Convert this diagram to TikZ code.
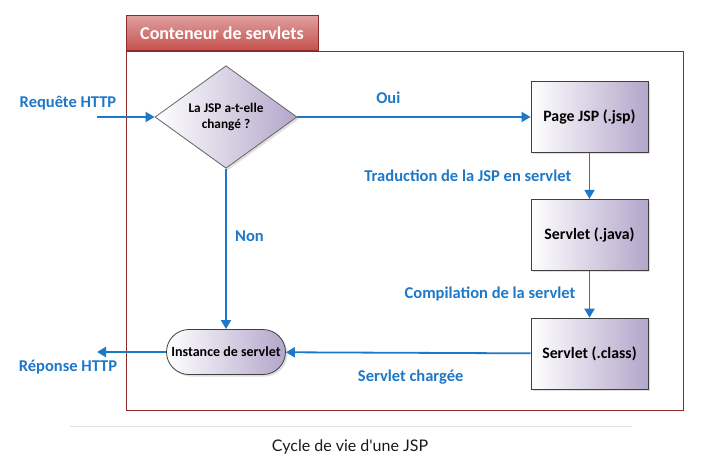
\documentclass[tikz,border=0pt]{standalone}
\usepackage{fontspec}
\setmainfont{Carlito}
\newfontfamily\capfont{Lato}
\usetikzlibrary{shapes.misc, shapes.geometric, arrows.meta, positioning, calc, shadows}
\definecolor{jspblue}{HTML}{1E78C8}
\definecolor{jspred}{HTML}{8E2A2A}
\definecolor{tabred}{HTML}{C4504C}
\definecolor{boxlav}{HTML}{B3A6CA}
\tikzset{
  container/.style={draw=jspred,line width=1pt,minimum width=557pt,minimum height=358pt,inner sep=0pt},
  tab/.style={draw=jspred,line width=1pt,top color=tabred!55,bottom color=tabred,text=white,font=\bfseries\fontsize{18}{20}\selectfont,minimum width=192pt,minimum height=35pt,inner sep=0pt},
  jspbox/.style={rectangle,draw=black!75,thick,left color=white,right color=boxlav,minimum width=117pt,minimum height=71pt,font=\bfseries\fontsize{15.8}{18}\selectfont,drop shadow={opacity=0.25,shadow xshift=2pt,shadow yshift=-2pt}},
  decision/.style={diamond,draw=black!60,thick,left color=white,right color=boxlav,minimum width=142pt,minimum height=77pt,inner sep=0pt,align=center,font=\bfseries\fontsize{13.3}{16}\selectfont,drop shadow={opacity=0.25,shadow xshift=2pt,shadow yshift=-2pt}},
  instbox/.style={rounded rectangle,draw=black!75,thick,left color=white,right color=boxlav,minimum width=119pt,minimum height=45pt,inner sep=0pt,font=\bfseries\fontsize{14}{16}\selectfont,drop shadow={opacity=0.25,shadow xshift=2pt,shadow yshift=-2pt}},
  flow/.style={-{Triangle[width=10pt,length=9pt]},jspblue,line width=1.8pt},
  flowlabel/.style={text=jspblue,font=\bfseries\fontsize{16.5}{19}\selectfont},
}

\begin{document}
\begin{tikzpicture}[x=1pt,y=-1pt]
    \useasboundingbox (0,0) rectangle (719,462);
    % servlet container
    \node[container] (ctr) at (404.5,231) {};
    \node[tab,anchor=south west] (ctrtab) at (ctr.north west) {Conteneur de servlets};
    % nodes
    \node[decision] (chg) at (226,117) {La JSP a-t-elle\\chang\'e ?};
    \node[jspbox] (jsp) at (589.5,117) {Page JSP (.jsp)};
    \node[jspbox,below=46pt of jsp] (java) {Servlet (.java)};
    \node[jspbox,below=47pt of java] (class) {Servlet (.class)};
    \node[instbox] (inst) at (226,352) {Instance de servlet};
    \coordinate (req) at (97,117);
    \coordinate (rep) at (97,352);
    \node[flowlabel] (reqlbl) at (68,103) {Requête HTTP};
    \node[flowlabel] (replbl) at (68,367) {Réponse HTTP};
    % connectors
    \draw[flow] (req) -- (chg.west);
    \draw[flow] (chg.east) -- node[flowlabel,pos=0.39,above=9pt] {Oui} (jsp.west);
    \draw[flow] (jsp) -- node[flowlabel,midway,left=14pt] {Traduction de la JSP en servlet} (java);
    \draw[flow] (java) -- node[flowlabel,midway,left=10pt] {Compilation de la servlet} (class);
    \draw[flow] (class) -- node[flowlabel,pos=0.49,below=13pt] {Servlet chargée} (inst);
    \draw[flow] (chg.south) -- node[flowlabel,pos=0.42,right=5pt] {Non} (inst.north);
    \draw[flow] (inst) -- (rep);
    % caption
    \draw[black!12,line width=1pt] (70,426) -- (632,426);
    \node[font=\capfont\fontsize{16}{19}\selectfont,text=black!90] (cap) at (350,447) {Cycle de vie d'une JSP};
\end{tikzpicture}
\end{document}
